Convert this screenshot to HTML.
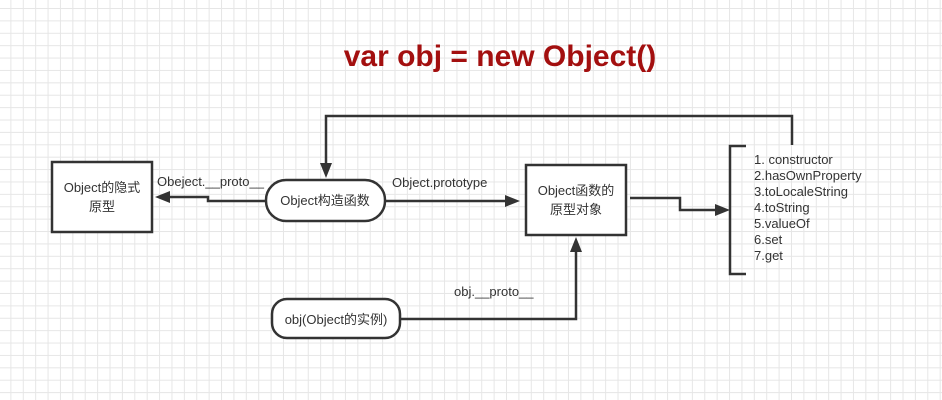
<!DOCTYPE html>
<html><head><meta charset="utf-8"><style>
html,body{margin:0;padding:0;}
body{width:942px;height:400px;overflow:hidden;background:#fff;
background-image:linear-gradient(#e6e6e6 1px,transparent 1px),linear-gradient(90deg,#e6e6e6 1px,transparent 1px);
background-size:12.4px 12.4px;background-position:-2px 8px;}
</style></head><body>
<svg width="942" height="400" xmlns="http://www.w3.org/2000/svg" style="position:absolute;left:0;top:0" font-family="Liberation Sans, Noto Sans CJK SC, sans-serif">
<text x="500" y="66" text-anchor="middle" font-size="30" font-weight="bold" fill="#a30f0f">var obj = new Object()</text>
<g stroke="#333" stroke-width="2.5" fill="#fff">
<rect x="52" y="162" width="100" height="70"/>
<rect x="266" y="180" width="119" height="41" rx="20"/>
<rect x="526" y="165" width="100" height="70"/>
<rect x="272" y="299" width="128" height="39" rx="15"/>
</g>
<g stroke="#333" stroke-width="2.5" fill="none">
<polyline points="266,201 208,201 208,197 168,197"/>
<polyline points="792,145 792,116 326,116 326,166"/>
<polyline points="385,201 512,201"/>
<polyline points="630,198 680,198 680,210 716,210"/>
<polyline points="746,146 730,146 730,274 746,274"/>
<polyline points="400,319 576,319 576,251"/>
</g>
<g fill="#333">
<polygon points="155,197 170,191 170,203"/>
<polygon points="326,178 320,163 332,163"/>
<polygon points="520,201 505,195 505,207"/>
<polygon points="730,210 715,204 715,216"/>
<polygon points="576,237 570,252 582,252"/>
</g>
<g font-size="13" fill="#333">
<text x="102" y="192" text-anchor="middle">Object的隐式</text>
<text x="102" y="211" text-anchor="middle">原型</text>
<text x="325" y="205" text-anchor="middle">Object构造函数</text>
<text x="576" y="195" text-anchor="middle">Object函数的</text>
<text x="576" y="214" text-anchor="middle">原型对象</text>
<text x="336" y="324" text-anchor="middle">obj(Object的实例)</text>
<text x="157" y="186">Obeject.__proto__</text>
<text x="392" y="187">Object.prototype</text>
<text x="454" y="296">obj.__proto__</text>
<text x="754" y="164">1. constructor</text>
<text x="754" y="180">2.hasOwnProperty</text>
<text x="754" y="196">3.toLocaleString</text>
<text x="754" y="212">4.toString</text>
<text x="754" y="228">5.valueOf</text>
<text x="754" y="244">6.set</text>
<text x="754" y="260">7.get</text>
</g>
</svg>
</body></html>
